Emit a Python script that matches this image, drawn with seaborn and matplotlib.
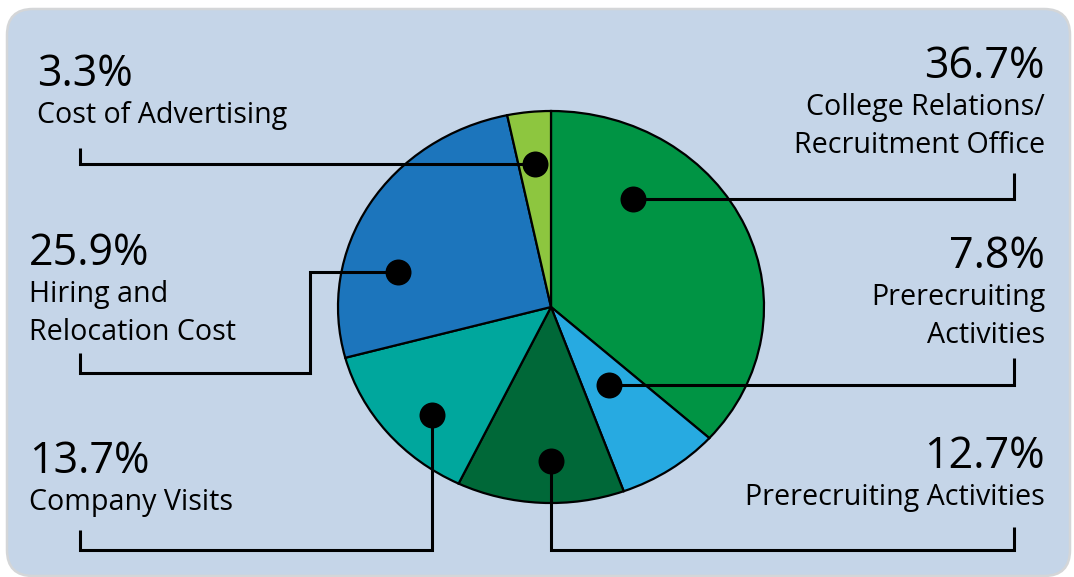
import numpy as np
import matplotlib
matplotlib.use('Agg')
import matplotlib.pyplot as plt
from matplotlib.patches import FancyBboxPatch
import seaborn as sns

# 데이터: 12시 방향부터 시계방향
categories = ['College Relations/\nRecruitment Office', 'Prerecruiting\nActivities',
              'Prerecruiting Activities', 'Company Visits',
              'Hiring and\nRelocation Cost', 'Cost of Advertising']
shares = [36.7, 7.8, 12.7, 13.7, 25.9, 3.3]
pct_labels = ['36.7%', '7.8%', '12.7%', '13.7%', '25.9%', '3.3%']
colors = ['#009444', '#27aae1', '#006838', '#00a79d', '#1c75bc', '#8dc63f']

sns.set_theme(style='white')
plt.rcParams['font.family'] = ['Open Sans', 'DejaVu Sans']

W, H = 1074, 577
fig = plt.figure(figsize=(W / 100, H / 100), dpi=100)
fig.patch.set_facecolor('white')

# 배경 (둥근 사각형)
bg = fig.add_axes([0, 0, 1, 1], zorder=0)
bg.set_xlim(0, W)
bg.set_ylim(H, 0)
bg.axis('off')
bg.add_patch(FancyBboxPatch((7, 9), 1063, 567, boxstyle='round,pad=0,rounding_size=26',
                            facecolor='#c5d5e8', edgecolor='#d4d6d8', linewidth=1.8))

# 파이 (타원형으로 늘어남)
cx, cy, rx, ry = 551, 307, 213, 196
pie_ax = fig.add_axes([(cx - rx) / W, (H - cy - ry) / H, 2 * rx / W, 2 * ry / H], zorder=1)
wedges, _ = pie_ax.pie(shares, colors=colors, startangle=90, counterclock=False,
                       wedgeprops=dict(edgecolor='black', linewidth=1.6))
pie_ax.set_xlim(-1, 1)
pie_ax.set_ylim(-1, 1)
pie_ax.set_aspect('auto')
pie_ax.axis('off')
for w in wedges:
    w.set_clip_on(False)

# 위쪽 레이어: 점, 연결선, 텍스트
fg = fig.add_axes([0, 0, 1, 1], zorder=2)
fg.set_xlim(0, W)
fg.set_ylim(H, 0)
fg.axis('off')
fg.patch.set_alpha(0)

# 각 조각 안의 점 위치 (각도 비율, 반지름 비율)
dot_pos = [(0.735, 0.672), (0.515, 0.482), (0.563, 0.786),
           (0.600, 0.785), (0.688, 0.740), (0.497, 0.734)]
routes = [
    [('h', 1014), ('v', 173)],
    [('h', 1014), ('v', 358)],
    [('v', 550), ('h', 1014), ('v', 527)],
    [('v', 550), ('h', 80), ('v', 530)],
    [('h', 310), ('v', 373), ('h', 80), ('v', 353)],
    [('h', 80), ('v', 148)],
]
to_fg = fg.transData.inverted()
for w, (t, r), route in zip(wedges, dot_pos, routes):
    ang = np.deg2rad(w.theta1 + t * (w.theta2 - w.theta1))
    px, py = to_fg.transform(pie_ax.transData.transform((r * np.cos(ang), r * np.sin(ang))))
    xs, ys = [px], [py]
    for d, v in route:
        if d == 'h':
            xs.append(v); ys.append(ys[-1])
        else:
            xs.append(xs[-1]); ys.append(v)
    fg.plot(xs, ys, color='black', lw=2.2, solid_joinstyle='miter', solid_capstyle='butt')
    fg.scatter([px], [py], s=350, color='black', zorder=5, linewidths=0)

# 텍스트 (x, 정렬, 퍼센트 기준선)
text_pos = [(1045, 'right', 78), (1045, 'right', 268), (1045, 'right', 468),
            (29, 'left', 473), (29, 'left', 265), (37, 'left', 86)]
for lab, pct, (tx, ha, by) in zip(categories, pct_labels, text_pos):
    fg.text(tx, by, pct, ha=ha, va='baseline', fontsize=31, color='black')
    for i, line in enumerate(lab.split('\n')):
        fg.text(tx, by + 37 + 38 * i, line, ha=ha, va='baseline', fontsize=20.6, color='black')

fig.savefig('out.png', dpi=100, facecolor='white')
